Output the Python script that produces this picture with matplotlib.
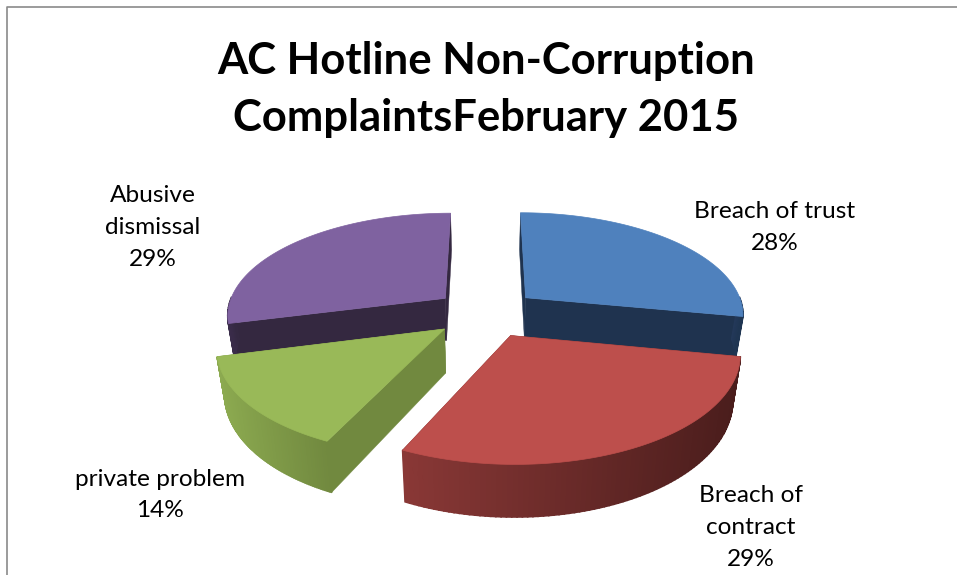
import numpy as np
import matplotlib
matplotlib.use("Agg")
import matplotlib.pyplot as plt
from matplotlib.colors import to_rgb

# =========================
# DATA
# =========================

TITLE_LINES = ["AC Hotline Non-Corruption", "ComplaintsFebruary 2015"]
LABELS = ["Breach of trust", "Breach of\ncontract", "private problem", "Abusive\ndismissal"]
SHARES = [28, 29, 14, 29]

# =========================
# STYLE
# =========================

TOP_COLORS = ["#4F81BD", "#BD4F4C", "#99B958", "#7F62A0"]
RIM_LEFT = ["#24395a", "#8A3836", "#8CAA50", "#3a2c4a"]
RIM_RIGHT = ["#1F3552", "#4A1D1C", "#71893F", "#342840"]
WALL_COLORS = ["#1F334F", "#4A1D1C", "#71893F", "#342840"]
LABEL_POS = [(775, 227.5), (751, 527.5), (160, 495), (152.5, 227.5)]

CX, CY = 486, 313
RX, RY = 219, 102
DEPTH = 43
PERSP = 6.66
TAPER = 0.03
EXPLODE = 0.24

plt.rcParams["font.family"] = ["Lato", "DejaVu Sans"]


def project(u, v, z=0.0):
    s = PERSP / (PERSP - v)
    x = CX + RX * u * s * (1 - TAPER * z)
    y = CY + (RY * v + DEPTH * z) * s
    return x, y


fig = plt.figure(figsize=(9.57, 5.75), dpi=100)
ax = fig.add_axes([0, 0, 1, 1])
ax.set_xlim(0, 957)
ax.set_ylim(575, 0)
ax.axis("off")

# chart frame, cut by the picture on the right and at the bottom
ax.plot([6.5, 6.5, 957], [575, 6.5, 6.5], color="#8a8a8a", lw=1.2)

edges = np.cumsum([0] + SHARES) / sum(SHARES) * 2 * np.pi

# back slices first
for order, i in enumerate([3, 0, 2, 1]):
    t0, t1 = edges[i], edges[i + 1]
    mid = (t0 + t1) / 2
    ou, ov = EXPLODE * np.sin(mid), -EXPLODE * np.cos(mid)
    theta = np.linspace(t0, t1, 90)
    us = ou + np.sin(theta)
    vs = ov - np.cos(theta)

    # radial walls
    for t in (t0, t1):
        eu, ev = ou + np.sin(t), ov - np.cos(t)
        pts = [project(ou, ov), project(eu, ev), project(eu, ev, 1), project(ou, ov, 1)]
        ax.fill(*zip(*pts), color=WALL_COLORS[i], lw=0.3, zorder=order + 1)

    # outer wall, only the part facing the viewer
    left, right = np.array(to_rgb(RIM_LEFT[i])), np.array(to_rgb(RIM_RIGHT[i]))
    facing = np.where(-np.cos(theta) > -0.02)[0]
    if len(facing) > 1:
        xs = project(us[facing], vs[facing])[0]
        for a, b in zip(facing[:-1], facing[1:]):
            pts = [project(us[a], vs[a]), project(us[b], vs[b]),
                   project(us[b], vs[b], 1), project(us[a], vs[a], 1)]
            mix = (pts[0][0] - xs.min()) / (xs.max() - xs.min())
            ax.fill(*zip(*pts), color=left + (right - left) * mix, lw=1.2, zorder=order + 1.1)

    # top face
    tx, ty = project(np.r_[ou, us], np.r_[ov, vs])
    ax.fill(tx, ty, color=TOP_COLORS[i], lw=0.5, zorder=order + 1.2)

for label, share, pos in zip(LABELS, SHARES, LABEL_POS):
    ax.text(pos[0], pos[1], f"{label}\n{share}%", ha="center", va="center",
            fontsize=17.6, color="black", linespacing=1.62, zorder=10)

for line, y in zip(TITLE_LINES, [61, 118]):
    ax.text(486, y, line, ha="center", va="center", fontsize=31.4,
            fontweight="bold", color="black", zorder=10)

fig.savefig("out.png", dpi=100)
